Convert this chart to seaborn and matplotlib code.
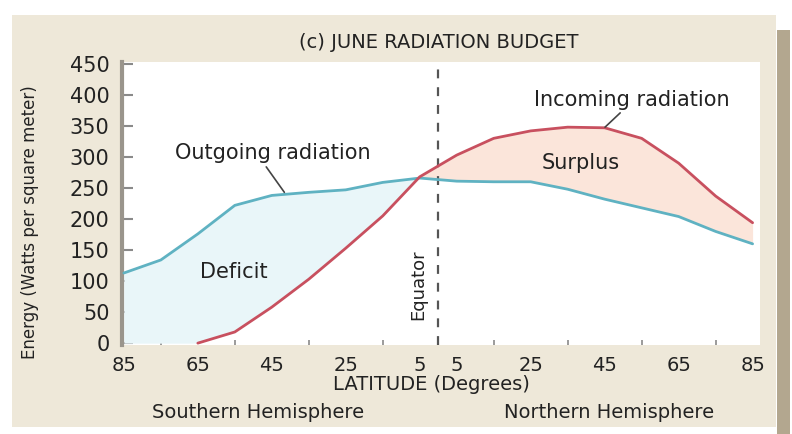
import numpy as np
import pandas as pd
import matplotlib
matplotlib.use("Agg")
import matplotlib.pyplot as plt
from matplotlib.patches import Rectangle
from matplotlib.ticker import FixedLocator
import seaborn as sns

# latitude, south negative / north positive
latitude = [-85, -75, -65, -55, -45, -35, -25, -15, -5, 5, 15, 25, 35, 45, 55, 65, 75, 85]
outgoing = [113, 134, 176, 222, 238, 243, 247, 259, 266, 261, 260, 260, 248, 232, 218, 204, 180, 160]
incoming = [np.nan, np.nan, 0, 18, 58, 103, 153, 205, 268, 303, 330, 342, 348, 347, 330, 290, 237, 194]

tick_pos = [-85, -65, -45, -25, -5, 5, 25, 45, 65, 85]
tick_labels = ["85", "65", "45", "25", "5", "5", "25", "45", "65", "85"]
y_ticks = [0, 50, 100, 150, 200, 250, 300, 350, 400, 450]

df = pd.DataFrame({"lat": latitude, "Outgoing": outgoing, "Incoming": incoming})
long_df = df.melt(id_vars="lat", var_name="kind", value_name="energy")

sns.set_theme(style="white")
plt.rcParams["font.family"] = ["DejaVu Sans"]

BLUE = "#5fb2c2"
RED = "#c8505f"
TXT = "#222222"
BEIGE = "#eee8d9"

fig = plt.figure(figsize=(7.92, 4.34), dpi=100)
fig.patch.set_facecolor("white")
# beige page frame
fig.patches.append(Rectangle((12 / 792, 1 - 427 / 434), (776 - 12) / 792, (427 - 15) / 434,
                             transform=fig.transFigure, facecolor=BEIGE, edgecolor="none", zorder=-2))
fig.patches.append(Rectangle((777 / 792, 1 - 434 / 434), 13 / 792, 1 - 30 / 434,
                             transform=fig.transFigure, facecolor="#b3a78f", edgecolor="none", zorder=-1))

ax = fig.add_axes([122 / 792, 1 - 345 / 434, (760 - 122) / 792, (345 - 62) / 434])
ax.set_facecolor("white")

lat = np.array(latitude, dtype=float)
out_v = np.array(outgoing, dtype=float)
inc_v = np.nan_to_num(np.array(incoming, dtype=float), nan=0.0)

ax.fill_between(lat, inc_v, out_v, where=out_v >= inc_v, interpolate=True,
                color="#e9f6f9", linewidth=0, zorder=1)
ax.fill_between(lat, out_v, inc_v, where=inc_v >= out_v, interpolate=True,
                color="#fbe5da", linewidth=0, zorder=1)

sns.lineplot(data=long_df, x="lat", y="energy", hue="kind",
             palette={"Outgoing": BLUE, "Incoming": RED},
             linewidth=2.0, legend=False, ax=ax, zorder=3)

ax.axvline(0, color="#555555", linestyle=(0, (4, 4)), linewidth=1.6, zorder=2)

ax.set_xlim(-85.5, 87)
ax.set_ylim(-3, 453)
ax.set_xlabel("")
ax.set_ylabel("")

ax.set_xticks(tick_pos)
ax.set_xticklabels(tick_labels)
ax.xaxis.set_minor_locator(FixedLocator(list(range(-75, 80, 10)) + [0]))
ax.tick_params(axis="x", which="major", length=0, pad=8, labelsize=14, labelcolor=TXT)
ax.tick_params(axis="x", which="minor", direction="in", length=3.5, width=1.2,
               color="#8a8a8a", bottom=True)
ax.set_yticks(y_ticks)
ax.tick_params(axis="y", which="major", direction="in", length=8, width=1.5,
               color="#8a8a8a", pad=9, labelsize=15, labelcolor=TXT, left=True)

for side in ["top", "right", "bottom"]:
    ax.spines[side].set_visible(False)
ax.spines["left"].set_color("#9a958c")
ax.spines["left"].set_linewidth(3)

# labels inside the plot
ax.text(-44.6, 306, "Outgoing radiation", fontsize=15, color=TXT, ha="center", va="center")
ax.plot([-46.5, -41.6], [284, 243], color="#444444", linewidth=1.2, zorder=4)
ax.text(52.4, 392, "Incoming radiation", fontsize=15, color=TXT, ha="center", va="center")
ax.plot([49.2, 45.1], [371, 348], color="#444444", linewidth=1.2, zorder=4)
ax.text(38.4, 290, "Surplus", fontsize=15, color=TXT, ha="center", va="center")
ax.text(-55.4, 115, "Deficit", fontsize=15, color=TXT, ha="center", va="center")
ax.text(-5.5, 94, "Equator", fontsize=13, color=TXT, ha="center", va="center", rotation=90)

fig.text(0.554, 1 - 42 / 434, "(c) JUNE RADIATION BUDGET", fontsize=14, color=TXT,
         ha="center", va="center")
fig.text(0.038, 1 - 222 / 434, "Energy (Watts per square meter)", fontsize=12, color=TXT,
         ha="center", va="center", rotation=90)
fig.text(0.545, 1 - 384 / 434, "LATITUDE (Degrees)", fontsize=14, color=TXT, ha="center", va="center")
fig.text(0.326, 1 - 413 / 434, "Southern Hemisphere", fontsize=14, color=TXT, ha="center", va="center")
fig.text(0.769, 1 - 413 / 434, "Northern Hemisphere", fontsize=14, color=TXT, ha="center", va="center")

fig.savefig("out.png", dpi=100)
